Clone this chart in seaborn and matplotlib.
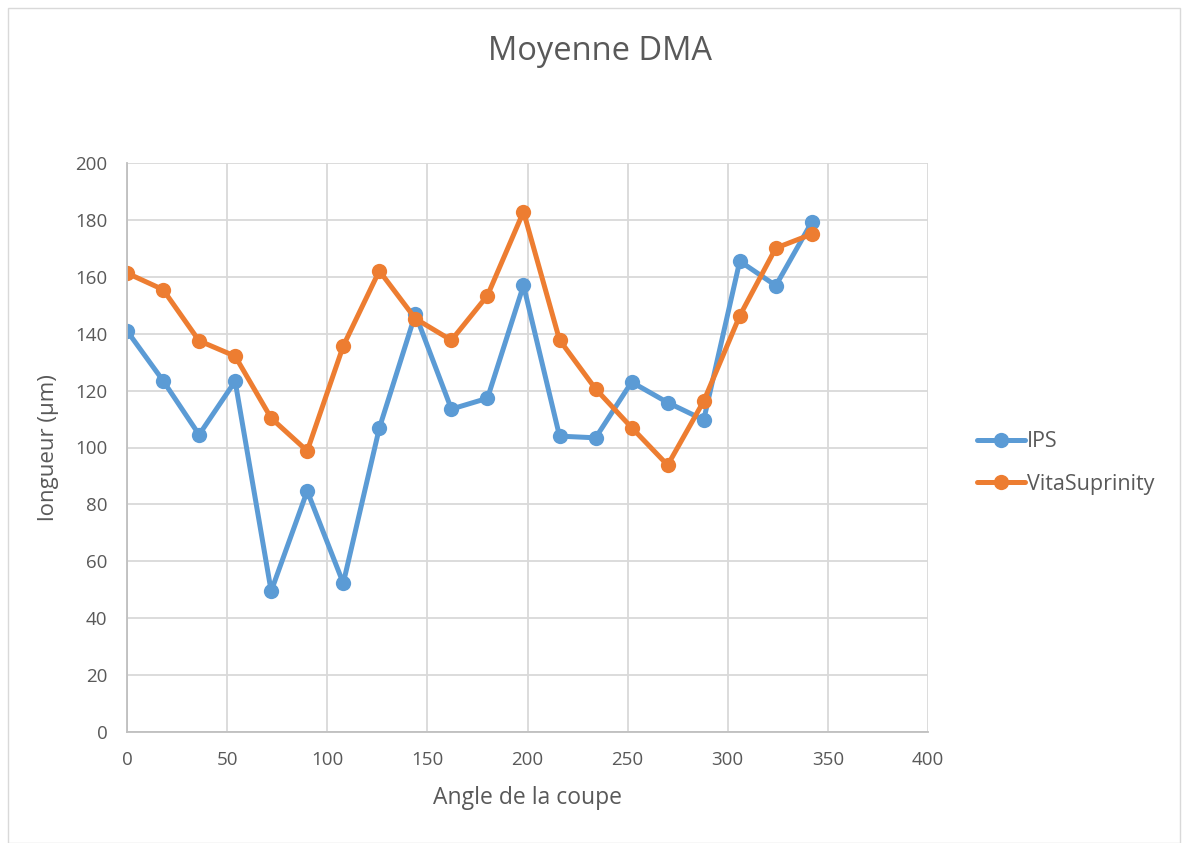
import pandas as pd
import seaborn as sns
import matplotlib.pyplot as plt
from matplotlib.patches import Rectangle

# Data
angles = [0, 18, 36, 54, 72, 90, 108, 126, 144, 162,
          180, 198, 216, 234, 252, 270, 288, 306, 324, 342]
ips = [141, 123.5, 104.5, 123.3, 49.5, 84.7, 52.3, 106.8, 146.9, 113.5,
       117.3, 157, 104, 103.4, 123, 115.8, 109.7, 165.5, 156.9, 179.3]
vita = [161.3, 155.5, 137.5, 132.1, 110.3, 98.8, 135.7, 162.1, 145.3, 137.7,
        153.4, 182.9, 137.8, 120.6, 107, 93.8, 116.3, 146.3, 170.1, 175]
series_names = ["IPS", "VitaSuprinity"]
colors = ["#5B9BD5", "#ED7D31"]

df = pd.DataFrame({
    "angle": angles * 2,
    "value": ips + vita,
    "serie": [series_names[0]] * len(angles) + [series_names[1]] * len(angles),
})

sns.set_style("white")
plt.rcParams["font.family"] = ["Open Sans", "DejaVu Sans"]
txt = "#595959"

fig = plt.figure(figsize=(11.88, 8.43), dpi=100)
ax = fig.add_axes([127 / 1188, 1 - 732 / 843, 801 / 1188, 569 / 843])

sns.lineplot(data=df, x="angle", y="value", hue="serie", palette=colors,
             marker="o", markersize=11, markeredgewidth=0, linewidth=3.6,
             ax=ax, legend=True)

ax.set_xlim(0, 400)
ax.set_ylim(0, 200)
ax.set_xticks(range(0, 401, 50))
ax.set_yticks(range(0, 201, 20))
ax.grid(True, color="#D9D9D9", linewidth=1.3)
ax.set_axisbelow(True)
for s in ["top", "right"]:
    ax.spines[s].set_visible(False)
for s in ["left", "bottom"]:
    ax.spines[s].set_color("#BFBFBF")
    ax.spines[s].set_linewidth(1.3)
ax.tick_params(axis="x", length=0, labelsize=13.5, colors=txt, pad=14)
ax.tick_params(axis="y", length=0, labelsize=13.5, colors=txt, pad=14)

ax.set_xlabel("Angle de la coupe", fontsize=16.5, color=txt, labelpad=12)
ax.set_ylabel("longueur (µm)", fontsize=16, color=txt, labelpad=12)
fig.text(600 / 1188, 1 - 52 / 843, "Moyenne DMA", fontsize=23.5, color=txt,
         ha="center", va="center")

handles, labels = ax.get_legend_handles_labels()
ax.legend(handles, labels, loc="center left", bbox_to_anchor=(958 / 1188, 1 - 463 / 843),
          bbox_transform=fig.transFigure, frameon=False, fontsize=15.5,
          labelcolor=txt, handlelength=2.2, handletextpad=0.1, labelspacing=1.0)

# Chart area border
fig.patches.append(Rectangle((8 / 1188, 0), 1 - 16 / 1188, 1 - 8 / 843,
                             transform=fig.transFigure, fill=False,
                             edgecolor="#D9D9D9", linewidth=1))

fig.savefig("out.png", dpi=100)
